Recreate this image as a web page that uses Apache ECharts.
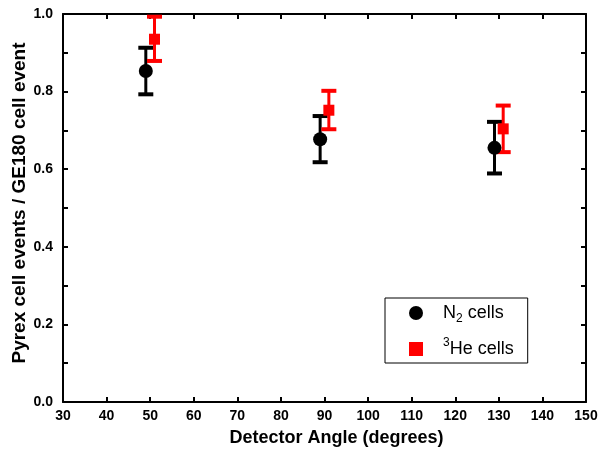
<!DOCTYPE html>
<html>
<head>
<meta charset="UTF-8">
<title>Pyrex / GE180</title>
<script src="https://cdn.jsdelivr.net/npm/echarts@6/dist/echarts.min.js"></script>
<style>
	html, body { margin: 0; padding: 0; background: #fff; }
	#chart { width: 599px; height: 449px; }
</style>
</head>
<body>
<div id="chart"></div>
<script>
	// N2 cells
	var n2Angle = [49, 89, 129];
	var n2Ratio = [0.853, 0.677, 0.655];
	var n2Low = [0.793, 0.618, 0.589];
	var n2High = [0.913, 0.737, 0.722];
	// 3He cells
	var heAngle = [51, 91, 131];
	var heRatio = [0.935, 0.752, 0.704];
	var heLow = [0.879, 0.703, 0.644];
	var heHigh = [0.993, 0.802, 0.764];

	function pairs(xs, ys) {
		var out = [];
		for (var i = 0; i < xs.length; i++) out.push([xs[i], ys[i]]);
		return out;
	}
	function errRows(xs, lo, hi) {
		var out = [];
		for (var i = 0; i < xs.length; i++) out.push([xs[i], lo[i], hi[i]]);
		return out;
	}
	function errBars(color) {
		return function (params, api) {
			var x = api.value(0);
			var a = api.coord([x, api.value(1)]);
			var b = api.coord([x, api.value(2)]);
			var half = 7.5;
			var st = { stroke: color, lineWidth: 3 };
			var cap = { stroke: color, lineWidth: 4 };
			return {
				type: 'group',
				children: [
					{ type: 'line', shape: { x1: a[0], y1: a[1], x2: b[0], y2: b[1] }, style: st },
					{ type: 'line', shape: { x1: a[0] - half, y1: a[1], x2: a[0] + half, y2: a[1] }, style: cap },
					{ type: 'line', shape: { x1: b[0] - half, y1: b[1], x2: b[0] + half, y2: b[1] }, style: cap }
				]
			};
		};
	}

	var font = 'Liberation Sans, Arial, sans-serif';
	var axisLine = { show: true, onZero: false, lineStyle: { color: '#000', width: 2 } };
	var tick = { show: true, inside: true, length: 5, lineStyle: { color: '#000', width: 2 } };

	var chart = echarts.init(document.getElementById('chart'));
	chart.setOption({
		animation: false,
		grid: { left: 63, right: 13, top: 14, bottom: 47, containLabel: false, outerBoundsMode: 'none' },
		// y axis title, drawn as text so it stays on one line
		graphic: [{
			type: 'text', x: 20, y: 203, rotation: Math.PI / 2,
			style: {
				text: 'Pyrex cell events / GE180 cell event',
				font: 'bold 19px Liberation Sans, Arial, sans-serif',
				fill: '#000', textAlign: 'center', textVerticalAlign: 'middle'
			}
		}],
		legend: {
			left: 385, top: 298,
			orient: 'vertical',
			padding: [6, 14, 5, 24],
			itemGap: 12,
			itemWidth: 14, itemHeight: 14,
			borderColor: '#000', borderWidth: 1,
			backgroundColor: '#fff',
			data: ['N2', 'He3'],
			formatter: function (name) {
				return name == 'N2' ? '{t|N}{sub|2}{t| cells}' : '{sup|3}{t|He cells}';
			},
			textStyle: {
				fontFamily: font,
				padding: [0, 0, 0, 15],
				rich: {
					t: { fontSize: 18, lineHeight: 24, fontFamily: font, color: '#000' },
					sub: { fontSize: 12, fontFamily: font, color: '#000', verticalAlign: 'bottom', padding: [10, 0, 0, 0] },
					sup: { fontSize: 12, fontFamily: font, color: '#000', verticalAlign: 'top', padding: [0, 0, 10, 0] }
				}
			}
		},
		xAxis: [{
			type: 'value', min: 30, max: 150, interval: 10,
			name: 'Detector Angle (degrees)', nameLocation: 'middle', nameGap: 27,
			nameTextStyle: { fontFamily: font, fontWeight: 'bold', fontSize: 18, color: '#000', padding: [0, 0, 0, 24] },
			axisLine: axisLine, axisTick: tick, splitLine: { show: false },
			axisLabel: { fontFamily: font, fontWeight: 'bold', fontSize: 14, color: '#000', margin: 7 }
		}, {
			type: 'value', min: 30, max: 150, interval: 10, position: 'top',
			axisLine: axisLine, axisTick: tick, splitLine: { show: false },
			axisLabel: { show: false }
		}],
		yAxis: [{
			type: 'value', min: 0, max: 1, interval: 0.1,
			axisLine: axisLine, axisTick: tick, splitLine: { show: false },
			axisLabel: {
				fontFamily: font, fontWeight: 'bold', fontSize: 14, color: '#000', margin: 10,
				formatter: function (v) {
					return Math.round(v * 10) % 2 == 0 ? v.toFixed(1) : '';
				}
			}
		}, {
			type: 'value', min: 0, max: 1, interval: 0.1, position: 'right',
			axisLine: axisLine, axisTick: tick, splitLine: { show: false },
			axisLabel: { show: false }
		}],
		series: [{
			type: 'custom', name: 'N2err', renderItem: errBars('#000'),
			data: errRows(n2Angle, n2Low, n2High), encode: { x: 0, y: [1, 2] }, z: 2
		}, {
			type: 'custom', name: 'He3err', renderItem: errBars('#ff0000'),
			data: errRows(heAngle, heLow, heHigh), encode: { x: 0, y: [1, 2] }, z: 2
		}, {
			type: 'scatter', name: 'N2', symbol: 'circle', symbolSize: 14,
			itemStyle: { color: '#000', opacity: 1 }, data: pairs(n2Angle, n2Ratio), z: 3
		}, {
			type: 'scatter', name: 'He3', symbol: 'rect', symbolSize: 11,
			itemStyle: { color: '#ff0000', opacity: 1 }, data: pairs(heAngle, heRatio), z: 3
		}]
	});
</script>
</body>
</html>
